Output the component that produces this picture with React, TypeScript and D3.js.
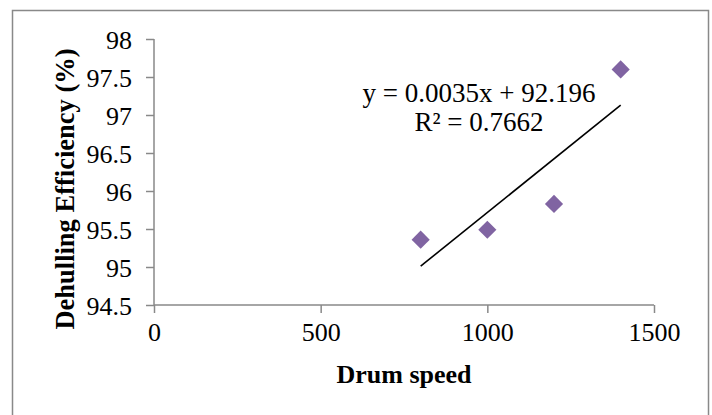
import {useEffect, useRef} from "react";
import * as d3 from "d3";

// Drum speed vs dehulling efficiency
const drumSpeed = [800, 1000, 1200, 1400];
const efficiency = [95.36, 95.49, 95.83, 97.6];
const xTicks = [0, 500, 1000, 1500];
const yTicks = [94.5, 95, 95.5, 96, 96.5, 97, 97.5, 98];
const equationLines = ["y = 0.0035x + 92.196", "R² = 0.7662"];

function App() {
    const ref = useRef<SVGSVGElement>(null);

    useEffect(() => {
        const left = 154, right = 654, top = 39, bottom = 305;
        const grey = "#898989";
        const font = "'Liberation Serif', 'Times New Roman', serif";

        const svg = d3.select(ref.current);
        svg.selectAll("*").remove();

        // outer frame (bottom edge is cut off by the picture)
        svg.append("rect")
            .attr("x", 12.5).attr("y", 10.5)
            .attr("width", 696).attr("height", 430)
            .attr("fill", "white")
            .attr("stroke", grey).attr("stroke-width", 1.5);

        const x = d3.scaleLinear().domain([0, 1500]).range([left, right]);
        const y = d3.scaleLinear().domain([94.5, 98]).range([bottom, top]);

        // axes
        const xAxis = svg.append("g")
            .attr("transform", `translate(0,${bottom})`)
            .call(d3.axisBottom(x).tickValues(xTicks).tickSize(8).tickPadding(10).tickFormat(d3.format("d")));
        const yAxis = svg.append("g")
            .attr("transform", `translate(${left},0)`)
            .call(d3.axisLeft(y).tickValues(yTicks).tickSize(8).tickPadding(14).tickFormat(d => String(d)));

        [xAxis, yAxis].forEach(g => {
            g.select(".domain").attr("stroke", grey).attr("stroke-width", 1.5);
            g.selectAll(".tick line").attr("stroke", grey).attr("stroke-width", 1.5);
            g.selectAll(".tick text")
                .attr("fill", "black")
                .style("font-family", font)
                .style("font-size", "26px");
        });
        xAxis.select(".domain").attr("d", `M${left},0H${right}`);
        yAxis.select(".domain").attr("d", `M0,${top}V${bottom}`);
        yAxis.selectAll(".tick text").attr("dy", "0.35em");

        // linear trendline from least squares
        const mx = d3.mean(drumSpeed)!;
        const my = d3.mean(efficiency)!;
        const slope = d3.sum(drumSpeed, (v, i) => (v - mx) * (efficiency[i] - my)) /
            d3.sum(drumSpeed, v => (v - mx) ** 2);
        const intercept = my - slope * mx;
        const xExt = d3.extent(drumSpeed) as [number, number];

        svg.append("path")
            .datum(xExt)
            .attr("d", d3.line<number>().x(d => x(d)).y(d => y(slope * d + intercept)))
            .attr("stroke", "black").attr("stroke-width", 1.6).attr("fill", "none");

        // diamond markers
        svg.append("g")
            .selectAll("path")
            .data(drumSpeed)
            .join("path")
            .attr("transform", (d, i) => `translate(${x(d)},${y(efficiency[i])}) rotate(45)`)
            .attr("d", d3.symbol().type(d3.symbolSquare).size(165)())
            .attr("fill", "#8064A2");

        // equation label
        svg.append("text")
            .attr("text-anchor", "middle")
            .style("font-family", font)
            .style("font-size", "27px")
            .selectAll("tspan")
            .data(equationLines)
            .join("tspan")
            .attr("x", 479)
            .attr("y", (d, i) => 102 + i * 29)
            .text(d => d);

        // axis titles
        svg.append("text")
            .attr("x", (left + right) / 2).attr("y", 383)
            .attr("text-anchor", "middle")
            .style("font-family", font).style("font-size", "26px").style("font-weight", "bold")
            .text("Drum speed");

        svg.append("text")
            .attr("transform", `translate(74,189) rotate(-90)`)
            .attr("text-anchor", "middle")
            .style("font-family", font).style("font-size", "26.5px").style("font-weight", "bold")
            .text("Dehulling Efficiency (%)");
    }, []);

    return <svg ref={ref} width={712} height={415}
                style={{position: "absolute", left: 0, top: 0, background: "white"}}/>;
}

export default App;
